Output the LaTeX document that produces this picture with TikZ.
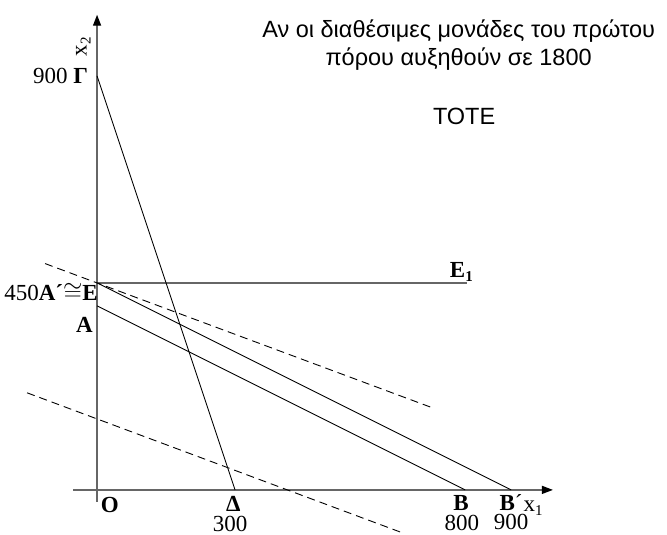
\documentclass[tikz,border=0pt]{standalone}
\usepackage{fontspec}
\setmainfont{Liberation Serif}
\newfontfamily\titlefont{Liberation Sans}
\usetikzlibrary{arrows.meta}

\tikzset{
  axisline/.style={draw=black!60, line width=1.4pt, -{Triangle[length=11pt,width=8pt,black]}},
  levelline/.style={draw=black!60, line width=1.4pt},
  constraint/.style={draw=black, line width=0.9pt},
  isoline/.style={draw=black, line width=0.9pt, dash pattern=on 8pt off 5pt},
  lbl/.style={inner sep=0pt, font=\fontsize{23}{24}\selectfont},
  titletext/.style={inner sep=0pt, align=center, font=\titlefont\fontsize{23.5}{28}\selectfont}
}

\begin{document}
\begin{tikzpicture}[x=0.46pt, y=0.46pt]
  \useasboundingbox (-211,-98) rectangle (1239,1065);

  % points of the plot
  \coordinate (O) at (0,0);
  \coordinate (G) at (0,900);
  \coordinate (D) at (300,0);
  \coordinate (A) at (0,400);
  \coordinate (B) at (800,0);
  \coordinate (E) at (0,450);
  \coordinate (Bp) at (900,0);
  \coordinate (E1) at (805,450);

  % axes
  \coordinate (ybot) at (0,-26);
  \coordinate (ytop) at (0,1033);
  \coordinate (xleft) at (-52,0);
  \coordinate (xright) at (991,0);
  \draw[axisline] (ybot) -- (ytop);
  \draw[axisline] (xleft) -- (xright);

  % constraints
  \draw[levelline] (E) -- (E1);
  \draw[constraint] (G) -- (D);
  \draw[constraint] (A) -- (B);
  \draw[constraint] (E) -- (Bp);

  % objective lines
  \coordinate (upA) at (-113,492);
  \coordinate (upB) at (733,177);
  \coordinate (loA) at (-152,211);
  \coordinate (loB) at (663,-93);
  \draw[isoline] (upA) -- (upB);
  \draw[isoline] (loA) -- (loB);

  % labels
  \node[lbl, anchor=east] (lG) at (-19,900) {900 \textbf{Γ}};
  \node[lbl, rotate=90] (lx2) at (-30,963) {x\raisebox{-4pt}{\fontsize{15}{15}\selectfont 2}};
  \node[lbl, anchor=east] (lE) at (2,430) {450\textbf{A´}$\cong$\textbf{E}};
  \node[lbl, anchor=east] (lA) at (-9,359) {\textbf{A}};
  \node[lbl] (lO) at (28,-33) {\textbf{O}};
  \node[lbl] (lD) at (296,-31) {\textbf{Δ}};
  \node[lbl] (l300) at (289,-74) {300};
  \node[lbl] (lB) at (791,-28) {\textbf{B}};
  \node[lbl] (l800) at (793,-71) {800};
  \node[lbl] (lBp) at (900,-28) {\textbf{B}´};
  \node[lbl] (lx1) at (948,-39) {x\raisebox{-4pt}{\fontsize{15}{15}\selectfont 1}};
  \node[lbl] (l900) at (900,-69) {900};
  \node[lbl] (lE1) at (792,474) {\textbf{E}\raisebox{-4pt}{\fontsize{15}{15}\selectfont\bfseries 1}};

  % text
  \node[titletext] (title) at (786,966) {Αν οι διαθέσιμες μονάδες του πρώτου\\πόρου αυξηθούν σε 1800};
  \node[titletext] (tote) at (798,811) {ΤΟΤΕ};
\end{tikzpicture}
\end{document}
